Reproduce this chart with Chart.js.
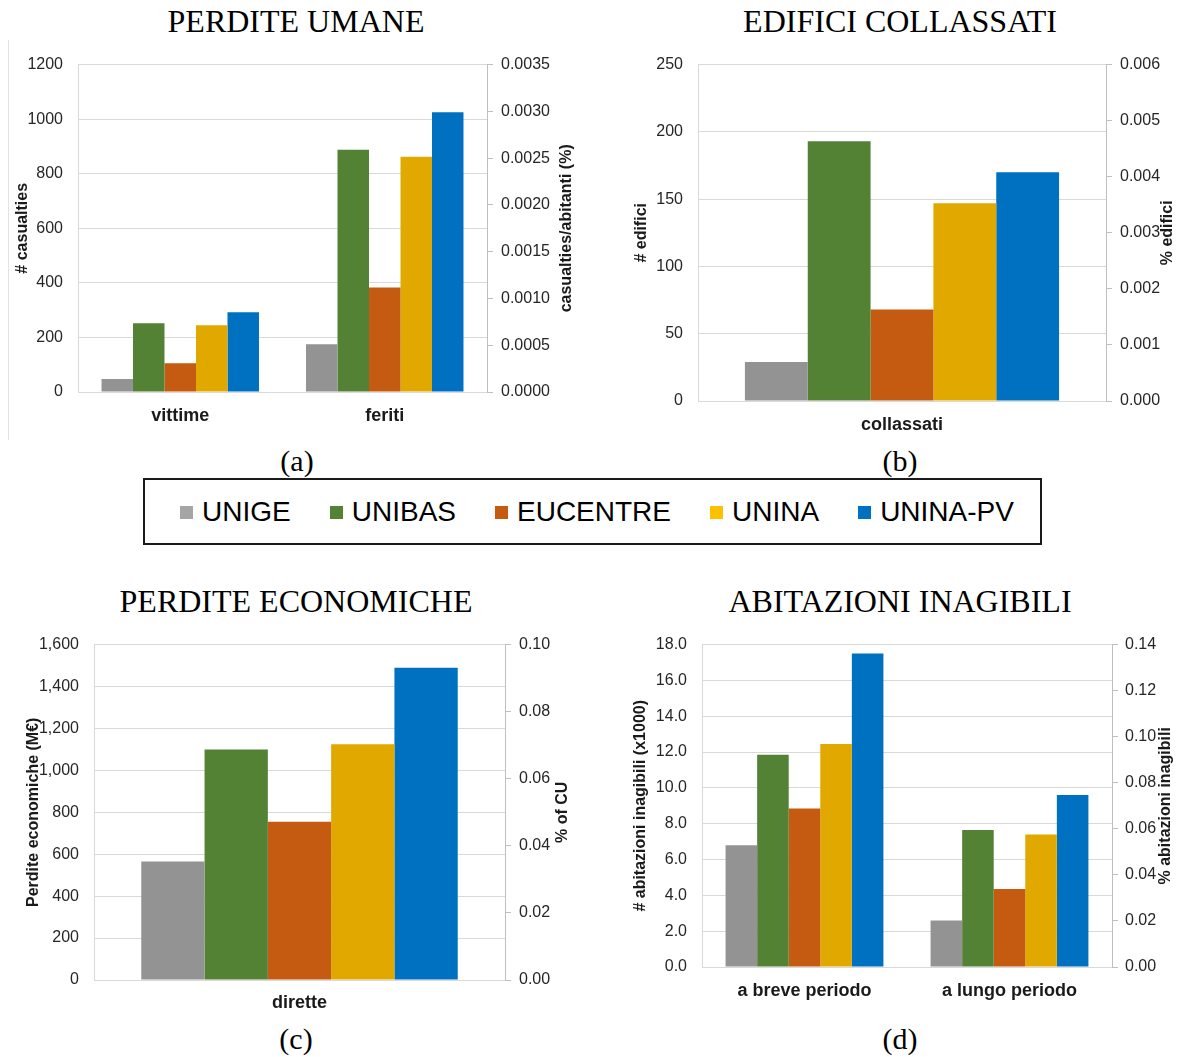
<!DOCTYPE html>
<html>
<head>
<meta charset="utf-8">
<script src="https://cdn.jsdelivr.net/npm/chart.js@4.4.1/dist/chart.umd.min.js"></script>
<style>
  body { margin: 0; background: #fff; }
  #page { position: relative; width: 1181px; height: 1057px; background: #fff; overflow: hidden; }
  canvas { position: absolute; }
  .ttl, .cap { position: absolute; font-family: "Liberation Serif", "Times New Roman", serif; color: #000; text-align: center; white-space: nowrap; }
  .ttl { font-size: 32px; width: 590px; }
  .cap { font-size: 30px; width: 590px; }
  #key { position: absolute; left: 143px; top: 478px; width: 886px; height: 63px; border: 2px solid #1a1a1a;
         display: flex; align-items: center; justify-content: center; gap: 39px; padding-left: 9px;
         font-family: "Liberation Sans", Arial, sans-serif; font-size: 28px; color: #000; }
  #key span.sq { display: inline-block; width: 13px; height: 13px; margin-right: 9px; vertical-align: 2px; }
  #edge { position: absolute; left: 8px; top: 40px; width: 0; height: 400px; border-left: 1px solid #e3e3e3; }
</style>
</head>
<body>
<div id="page">
  <div class="ttl" style="left:1px;top:3px">PERDITE UMANE</div>
  <div class="ttl" style="left:605px;top:3px">EDIFICI COLLASSATI</div>
  <div class="ttl" style="left:1px;top:583px">PERDITE ECONOMICHE</div>
  <div class="ttl" style="left:605px;top:583px">ABITAZIONI INAGIBILI</div>
  <div class="cap" style="left:2px;top:444px">(a)</div>
  <div class="cap" style="left:605px;top:444px">(b)</div>
  <div class="cap" style="left:1px;top:1022px">(c)</div>
  <div class="cap" style="left:605px;top:1022px">(d)</div>
  <div id="edge"></div>
  <div id="key"></div>
  <canvas id="cA" width="590" height="400" style="left:0;top:40px"></canvas>
  <canvas id="cB" width="581" height="400" style="left:600px;top:40px"></canvas>
  <canvas id="cC" width="590" height="400" style="left:0;top:620px"></canvas>
  <canvas id="cD" width="581" height="400" style="left:600px;top:620px"></canvas>
</div>
<script>
// serie e colori
const series = ['UNIGE', 'UNIBAS', 'EUCENTRE', 'UNINA', 'UNINA-PV'];
const barColors = ['#939393', '#548235', '#C55A11', '#E1A900', '#0070C0'];
const keyColors = ['#A5A5A5', '#548235', '#C55A11', '#FFC000', '#0070C0'];

// (a) perdite umane
const umaneCats = ['vittime', 'feriti'];
const umaneVals = [[48, 175], [252, 888], [105, 383], [245, 862], [292, 1025]];
const umaneLeft = [0, 1200, 200];
const umaneRight = [0, 0.0035, 0.0005];

// (b) edifici collassati
const edificiCats = ['collassati'];
const edificiVals = [[29], [193], [68], [147], [170]];
const edificiLeft = [0, 250, 50];
const edificiRight = [0, 0.006, 0.001];

// (c) perdite economiche
const econCats = ['dirette'];
const econVals = [[565], [1100], [755], [1125], [1490]];
const econLeft = [0, 1600, 200];
const econRight = [0, 0.10, 0.02];

// (d) abitazioni inagibili
const abitCats = ['a breve periodo', 'a lungo periodo'];
const abitVals = [[6.8, 2.6], [11.85, 7.65], [8.85, 4.35], [12.45, 7.4], [17.5, 9.6]];
const abitLeft = [0, 18, 2];
const abitRight = [0, 0.14, 0.02];

const FONT = '"Liberation Sans", Arial, sans-serif';

// titolo asse destro, ruotato dal basso verso l'alto
const sideTitle = {
    id: 'sideTitle',
    afterDraw(chart, args, opts) {
        const { ctx, chartArea } = chart;
        ctx.save();
        ctx.font = 'bold 16px ' + FONT;
        ctx.fillStyle = '#1a1a1a';
        ctx.textAlign = 'center';
        ctx.textBaseline = 'middle';
        ctx.translate(opts.x, (chartArea.top + chartArea.bottom) / 2);
        ctx.rotate(-Math.PI / 2);
        ctx.fillText(opts.text, 0, 0);
        ctx.restore();
    }
};

function makeChart(id, c) {
    const datasets = series.map((name, i) => ({
        label: name,
        data: c.vals[i],
        backgroundColor: barColors[i],
        borderWidth: 0,
        barPercentage: 1,
        categoryPercentage: 0.77,
        yAxisID: 'y'
    }));
    return new Chart(document.getElementById(id), {
        type: 'bar',
        data: { labels: c.cats, datasets },
        plugins: [sideTitle],
        options: {
            responsive: false,
            animation: false,
            events: [],
            layout: { padding: { top: c.padTop, left: 0, right: 0, bottom: 0 } },
            plugins: {
                legend: { display: false },
                tooltip: { enabled: false },
                sideTitle: { text: c.rightTitle, x: c.rightX }
            },
            scales: {
                x: {
                    grid: { display: false },
                    border: { display: true, color: '#d9d9d9' },
                    ticks: { color: '#1a1a1a', padding: c.catPad, font: { family: FONT, size: 18, weight: 'bold' } },
                    afterFit: s => { s.height = c.xH; }
                },
                y: {
                    position: 'left',
                    min: c.left[0], max: c.left[1],
                    ticks: {
                        stepSize: c.left[2], padding: 15, color: '#262626',
                        font: { family: FONT, size: 16 },
                        callback: c.leftFmt
                    },
                    grid: { color: '#d9d9d9', drawTicks: false },
                    border: { display: true, color: '#d9d9d9' },
                    title: {
                        display: true, text: c.leftTitle, color: '#1a1a1a',
                        font: { family: FONT, size: 16, weight: 'bold' },
                        padding: { top: c.leftX - 9.6, bottom: 0 }
                    },
                    afterFit: s => { s.width = c.yW; }
                },
                y1: {
                    position: 'right',
                    min: c.right[0], max: c.right[1],
                    ticks: {
                        stepSize: c.right[2], padding: c.rPad, color: '#262626',
                        font: { family: FONT, size: 16 },
                        callback: c.rightFmt
                    },
                    grid: { drawOnChartArea: false, drawTicks: true, tickLength: 6, color: '#bfbfbf' },
                    border: { display: true, color: '#bfbfbf' },
                    afterFit: s => { s.width = c.y1W; }
                }
            }
        }
    });
}

makeChart('cA', {
    cats: umaneCats, vals: umaneVals, left: umaneLeft, right: umaneRight,
    leftFmt: v => String(v), rightFmt: v => v.toFixed(4),
    leftTitle: '# casualties', rightTitle: 'casualties/abitanti (%)',
    yW: 78, y1W: 103, padTop: 22, xH: 48, catPad: 5, rPad: 8, leftX: 23, rightX: 567
});

makeChart('cB', {
    cats: edificiCats, vals: edificiVals, left: edificiLeft, right: edificiRight,
    leftFmt: v => String(v), rightFmt: v => v.toFixed(3),
    leftTitle: '# edifici', rightTitle: '% edifici',
    yW: 98, y1W: 75, padTop: 21, xH: 39, catPad: 5, rPad: 8, leftX: 42, rightX: 568
});

makeChart('cC', {
    cats: econCats, vals: econVals, left: econLeft, right: econRight,
    leftFmt: v => v.toLocaleString('en-US'), rightFmt: v => v.toFixed(2),
    leftTitle: 'Perdite economiche (M€)', rightTitle: '% of CU',
    yW: 94, y1W: 85, padTop: 20, xH: 40, catPad: 4, rPad: 8, leftX: 34, rightX: 563
});

makeChart('cD', {
    cats: abitCats, vals: abitVals, left: abitLeft, right: abitRight,
    leftFmt: v => v.toFixed(1), rightFmt: v => v.toFixed(2),
    leftTitle: '# abitazioni inagibili (x1000)', rightTitle: '% abitazioni inagibili',
    yW: 102, y1W: 69, padTop: 20, xH: 53, catPad: 5, rPad: 7, leftX: 41, rightX: 566
});

// legenda comune
const key = document.getElementById('key');
series.forEach((name, i) => {
    const item = document.createElement('div');
    item.innerHTML = '<span class="sq" style="background:' + keyColors[i] + '"></span>' + name;
    key.appendChild(item);
});
</script>
</body>
</html>
